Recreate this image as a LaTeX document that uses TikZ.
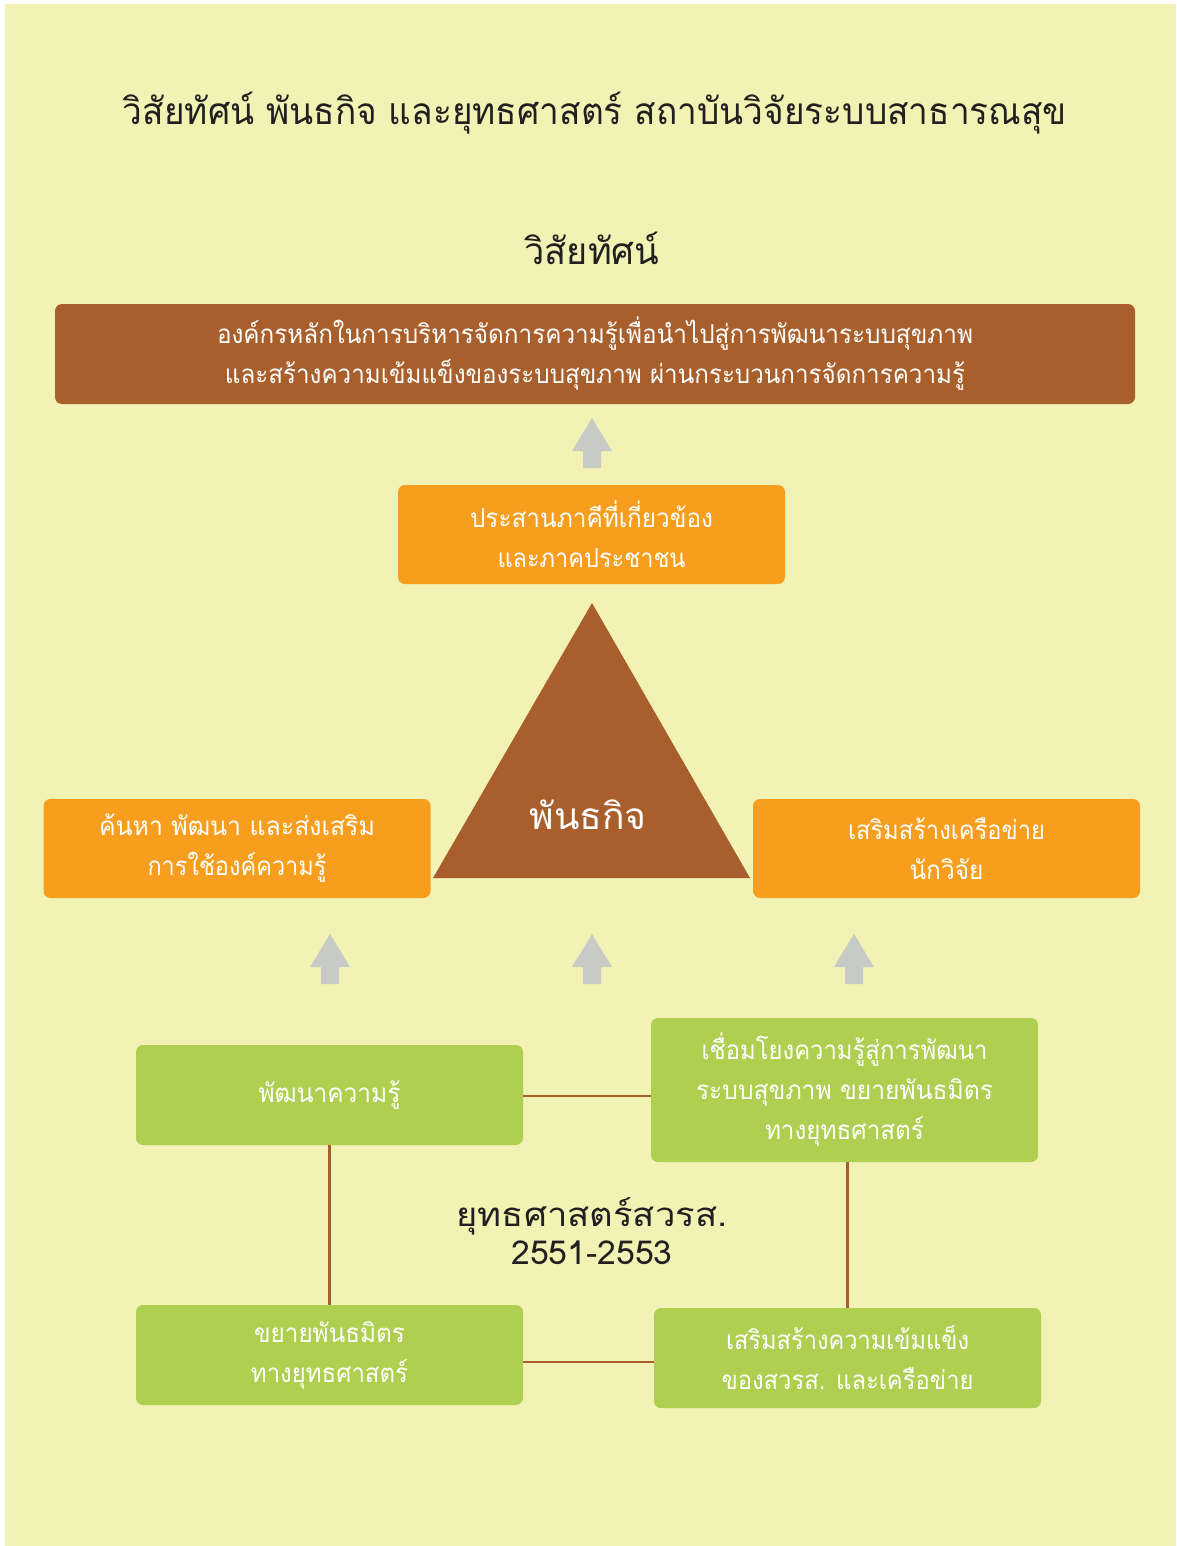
\documentclass[tikz,border=0pt]{standalone}
\usepackage{fontspec}
\usepackage{graphicx}
\newfontfamily\thaifont[Script=Thai]{Loma}
\definecolor{bgc}{RGB}{242,242,180}
\definecolor{brownc}{RGB}{169,95,44}
\definecolor{orangec}{RGB}{247,158,30}
\definecolor{greenc}{RGB}{174,207,80}
\definecolor{grayc}{RGB}{200,202,198}
\definecolor{inkc}{RGB}{35,31,32}
\newcommand\fw[2]{\resizebox{#1pt}{\height}{#2}}
\tikzset{
  box/.style={rounded corners=7pt, inner sep=0pt, align=center, text=white,
     font=\thaifont\fontsize{26}{40}\selectfont},
  brownbox/.style={box, fill=brownc, minimum width=1080pt, minimum height=100pt},
  orangebox/.style={box, fill=orangec, minimum width=387pt, minimum height=99pt},
  greenbox/.style={box, fill=greenc, minimum width=387pt, minimum height=100pt},
  uparrow/.style={fill=grayc},
  link/.style={draw=brownc, line width=2.5pt},
  heading/.style={text=inkc, inner sep=0pt, align=center}
}
\newcommand\uparr[2]{\fill[uparrow] (#1-9,#2+50) -- (#1-9,#2+33) -- (#1-20,#2+33) -- (#1,#2) -- (#1+20,#2+33) -- (#1+9,#2+33) -- (#1+9,#2+50) -- cycle;}
\begin{document}
\begin{tikzpicture}[x=1pt,y=-1pt]
\useasboundingbox (0,0) rectangle (1176,1546);
\fill[bgc] (5,4) rectangle (1176,1546);
% title
\node[heading, font=\thaifont\fontsize{37}{40}\selectfont] (title) at (595,113) {\fw{944}{วิสัยทัศน์ พันธกิจ และยุทธศาสตร์ สถาบันวิจัยระบบสาธารณสุข}};
\node[heading, font=\thaifont\fontsize{37}{40}\selectfont] (vision) at (592,248) {\fw{135}{วิสัยทัศน์}};
% vision box
\node[brownbox] (vbox) at (595,354) {\fw{756}{องค์กรหลักในการบริหารจัดการความรู้เพื่อนำไปสู่การพัฒนาระบบสุขภาพ}\\\fw{740}{และสร้างความเข้มแข็งของระบบสุขภาพ ผ่านกระบวนการจัดการความรู้}};
\uparr{592}{418}
% top mission box
\node[orangebox] (mtop) at (591.5,534.5) {\fw{243}{ประสานภาคีที่เกี่ยวข้อง}\\\fw{188}{และภาคประชาชน}};
% triangle
\fill[brownc] (592,603) -- (750,878) -- (433,878) -- cycle;
\node[heading, text=white, font=\thaifont\fontsize{37}{40}\selectfont] (mission) at (588,815) {\fw{117}{พันธกิจ}};
\node[orangebox] (mleft) at (237,848.5) {\fw{276}{ค้นหา พัฒนา และส่งเสริม}\\\fw{179}{การใช้องค์ความรู้}};
\node[orangebox] (mright) at (946.5,848.5) {\fw{197}{เสริมสร้างเครือข่าย}\\\fw{74}{นักวิจัย}};
\uparr{330}{934}
\uparr{592}{934}
\uparr{854}{934}
% strategy
\node[greenbox] (g1) at (329.5,1095) {\fw{142}{พัฒนาความรู้}};
\node[greenbox, minimum height=144pt] (g2) at (844.5,1090) {\fw{286}{เชื่อมโยงความรู้สู่การพัฒนา}\\\fw{297}{ระบบสุขภาพ ขยายพันธมิตร}\\\fw{159}{ทางยุทธศาสตร์}};
\node[greenbox] (g3) at (329.5,1355) {\fw{151}{ขยายพันธมิตร}\\\fw{157}{ทางยุทธศาสตร์}};
\node[greenbox] (g4) at (847.5,1358) {\fw{243}{เสริมสร้างความเข้มแข็ง}\\\fw{252}{ของสวรส. และเครือข่าย}};
\node[heading, font=\thaifont\fontsize{33}{38}\selectfont] (strat) at (592,1231) {\fw{271}{ยุทธศาสตร์สวรส.}\\\fw{161}{2551-2553}};
\draw[link] (g1.east |- 0,1096) -- (g2.west |- 0,1096);
\draw[link] (g1.south) -- (g1.south |- g3.north);
\draw[link] (g4.north) -- (g4.north |- g2.south);
\draw[link] (g3.east |- 0,1362) -- (g4.west |- 0,1362);
\end{tikzpicture}
\end{document}
